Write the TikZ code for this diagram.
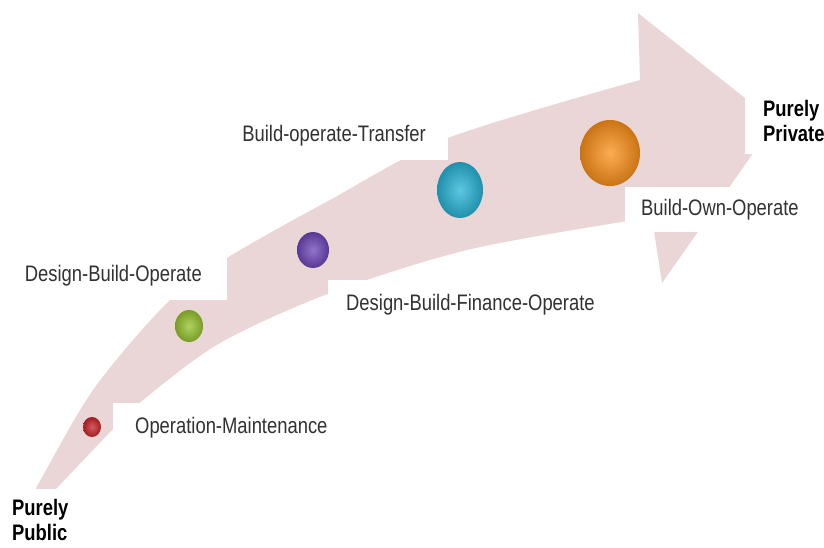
\documentclass[tikz,border=0pt]{standalone}
\usepackage{fontspec}
\setmainfont{Liberation Sans}
\usetikzlibrary{shapes.geometric}
\definecolor{arrowpink}{RGB}{234,214,215}
\definecolor{labelgray}{RGB}{50,50,50}
\definecolor{ballred}{RGB}{200,35,40}
\definecolor{ballgreen}{RGB}{150,195,45}
\definecolor{ballpurple}{RGB}{110,70,185}
\definecolor{ballcyan}{RGB}{40,180,215}
\definecolor{ballorange}{RGB}{252,145,25}
\newcommand{\vstretch}[1]{\scalebox{1}[1.22]{#1}}
\tikzset{
  lbl/.style={fill=white, inner xsep=22pt, inner ysep=14pt, text=labelgray,
    font=\fontsize{18.4}{22}\selectfont},
  endlbl/.style={fill=white, inner xsep=18pt, inner ysep=12pt, text=black, align=left,
    font=\bfseries\fontsize{18.4}{25}\selectfont},
  ball/.style={ellipse, inner sep=0pt, shading=radial,
    inner color=#1!75!white, outer color=#1!80!black}
}
\begin{document}
\begin{tikzpicture}[x=1pt, y=-1pt]
\useasboundingbox (0,0) rectangle (824,548);
\fill[white] (0,0) rectangle (824,548);
% curved arrow
\fill[arrowpink]
  plot[smooth] coordinates {(20,515) (35,490) (93,390) (167,303) (227,258) (330,200) (448,138) (640,80)}
  -- (638,13) -- (775,122) -- (662,283) -- (652,218)
  -- plot[smooth] coordinates {(652,218) (627,221) (467,250) (330,293) (220,343) (143,400) (115,427) (55,490) (31,515)}
  -- cycle;
% balls
\node[ball=ballred, minimum width=18pt, minimum height=20pt] (b1) at (92,427) {};
\node[ball=ballgreen, minimum width=28pt, minimum height=32pt] (b2) at (189,326) {};
\node[ball=ballpurple, minimum width=32pt, minimum height=36pt] (b3) at (313,250) {};
\node[ball=ballcyan, minimum width=46pt, minimum height=56pt] (b4) at (460,190) {};
\node[ball=ballorange, minimum width=60pt, minimum height=66pt] (b5) at (610,153) {};
% labels (white boxes cut the arrow)
\node[lbl, anchor=north west] (om) at (113,403) {\vstretch{Operation-Maintenance}};
\node[lbl, anchor=south east, inner xsep=25pt] (dbo) at (227,300) {\vstretch{Design-Build-Operate}};
\node[lbl, anchor=south east] (bot) at (448,160) {\vstretch{Build-operate-Transfer}};
\node[lbl, anchor=north west, inner xsep=18pt] (dbfo) at (328,280) {\vstretch{Design-Build-Finance-Operate}};
\node[lbl, anchor=north west, inner xsep=16pt, inner ysep=12pt] (boo) at (625,187) {\vstretch{Build-Own-Operate}};
\node[endlbl, anchor=north west] (priv) at (745,88) {\vstretch{Purely}\\\vstretch{Private}};
\node[endlbl, anchor=north west, inner xsep=12pt, inner ysep=10pt] (pub) at (0,489) {\vstretch{Purely}\\\vstretch{Public}};
\end{tikzpicture}
\end{document}
